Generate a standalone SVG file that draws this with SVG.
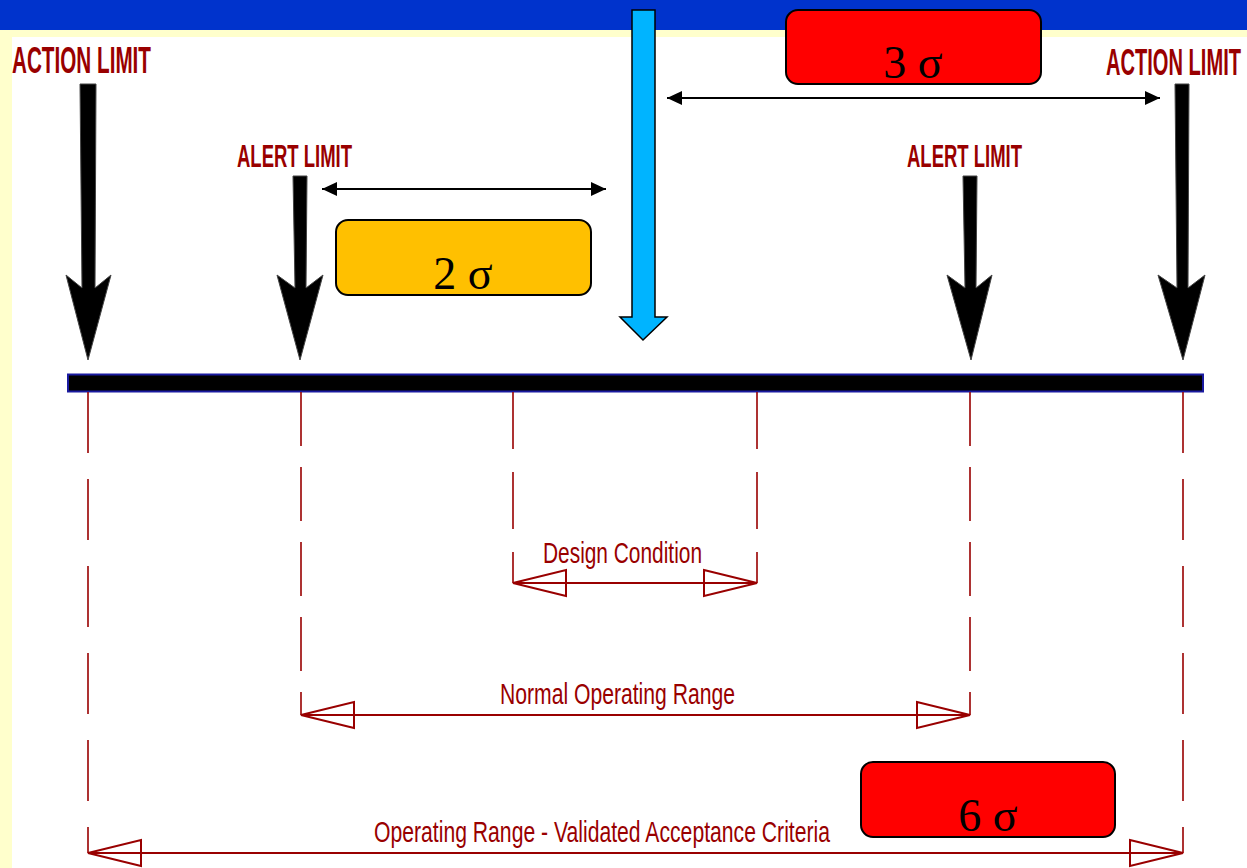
<svg xmlns="http://www.w3.org/2000/svg" width="1247" height="868" viewBox="0 0 1247 868">
<style>
.lbl{font-family:"Liberation Sans",Arial,sans-serif;font-weight:bold;fill:#990000}
.dim{font-family:"Liberation Sans",Arial,sans-serif;fill:#990000;font-size:30px}
.sig{font-family:"Liberation Serif","Times New Roman",serif;fill:#000;font-size:46px;text-anchor:middle}
.blk{fill:#000;stroke:#444;stroke-width:1}
.box{stroke:#000;stroke-width:2}
.dash{stroke:#990000;stroke-width:1.6;fill:none}
.dl{stroke:#990000;stroke-width:2;fill:none}
.bl{stroke:#000;stroke-width:2;fill:none}
</style>
<defs>
<marker id="openTri" markerUnits="userSpaceOnUse" markerWidth="60" markerHeight="32" refX="53" refY="13" orient="auto-start-reverse" overflow="visible">
<path d="M0,0 L53,13 L0,26 Z" fill="none" stroke="#990000" stroke-width="2"/>
</marker>
<marker id="solidTri" markerUnits="userSpaceOnUse" markerWidth="16" markerHeight="16" refX="15" refY="7" orient="auto-start-reverse" overflow="visible">
<path d="M0,0 L15,7 L0,14 Z" fill="#000"/>
</marker>
</defs>
<g id="background">
<rect x="0" y="0" width="1247" height="868" fill="#FFFFCC"/>
<rect x="12" y="37" width="1235" height="831" fill="#FFFFFF"/>
<rect x="0" y="0" width="1247" height="30" fill="#0033CC"/>
</g>
<g id="scale-bar">
<rect x="68" y="374.5" width="1135" height="17" fill="#000" stroke="#1a1aa0" stroke-width="2"/>
</g>
<g id="connectors">
<line class="dash" x1="88" y1="392" x2="88" y2="853" stroke-dasharray="61 26"/>
<line class="dash" x1="301" y1="392" x2="301" y2="715" stroke-dasharray="54 21"/>
<line class="dash" x1="513" y1="392" x2="513" y2="583" stroke-dasharray="57 23"/>
<line class="dash" x1="757" y1="392" x2="757" y2="583" stroke-dasharray="57 23"/>
<line class="dash" x1="970" y1="392" x2="970" y2="715" stroke-dasharray="54 21"/>
<line class="dash" x1="1183" y1="392" x2="1183" y2="853" stroke-dasharray="61 26"/>
<line class="dl" x1="513" y1="583" x2="757" y2="583" marker-start="url(#openTri)" marker-end="url(#openTri)"/>
<line class="dl" x1="301" y1="715" x2="970" y2="715" marker-start="url(#openTri)" marker-end="url(#openTri)"/>
<line class="dl" x1="88" y1="853" x2="1183" y2="853" marker-start="url(#openTri)" marker-end="url(#openTri)"/>
<line class="bl" x1="322" y1="189" x2="606" y2="189" marker-start="url(#solidTri)" marker-end="url(#solidTri)"/>
<line class="bl" x1="667" y1="98" x2="1160" y2="98" marker-start="url(#solidTri)" marker-end="url(#solidTri)"/>
</g>
<g id="action-limit-left">
<text class="lbl" x="12" y="73" font-size="36" textLength="139" lengthAdjust="spacingAndGlyphs">ACTION LIMIT</text>
<polygon class="blk" points="80,84 96,84 95,288 111,275 88,360 66,275 82,288"/>
</g>
<g id="alert-limit-left">
<text class="lbl" x="237" y="167" font-size="31" textLength="115" lengthAdjust="spacingAndGlyphs">ALERT LIMIT</text>
<polygon class="blk" points="293,176 307,176 306,288 323,275 300,360 277,275 295,288"/>
</g>
<g id="alert-limit-right">
<text class="lbl" x="907" y="167" font-size="31" textLength="115" lengthAdjust="spacingAndGlyphs">ALERT LIMIT</text>
<polygon class="blk" points="963,176 977,176 976,288 992,275 971,360 947,275 965,288"/>
</g>
<g id="action-limit-right">
<text class="lbl" x="1106" y="75" font-size="36" textLength="135" lengthAdjust="spacingAndGlyphs">ACTION LIMIT</text>
<polygon class="blk" points="1175,84 1189,84 1188,288 1205,275 1183,360 1158,275 1177,288"/>
</g>
<g id="target-arrow">
<polygon points="632,10 655,10 655,317 667,317 643,340 620,317 632,317" fill="#00B4FF" stroke="#000" stroke-width="1.5"/>
</g>
<g id="box-3sigma">
<rect class="box" x="786" y="10" width="255" height="74" rx="12" fill="#FF0000"/>
<text class="sig" x="913" y="78">3 σ</text>
</g>
<g id="box-2sigma">
<rect class="box" x="336" y="220" width="255" height="75" rx="12" fill="#FFC000"/>
<text class="sig" x="463" y="289">2 σ</text>
</g>
<g id="box-6sigma">
<rect class="box" x="861" y="762" width="254" height="75" rx="12" fill="#FF0000"/>
<text class="sig" x="988" y="831">6 σ</text>
</g>
<g id="label-design">
<text class="dim" x="543" y="563" textLength="159" lengthAdjust="spacingAndGlyphs">Design Condition</text>
</g>
<g id="label-normal">
<text class="dim" x="500" y="704" textLength="235" lengthAdjust="spacingAndGlyphs">Normal Operating Range</text>
</g>
<g id="label-operating">
<text class="dim" x="374" y="842" textLength="456" lengthAdjust="spacingAndGlyphs">Operating Range - Validated Acceptance Criteria</text>
</g>
</svg>
